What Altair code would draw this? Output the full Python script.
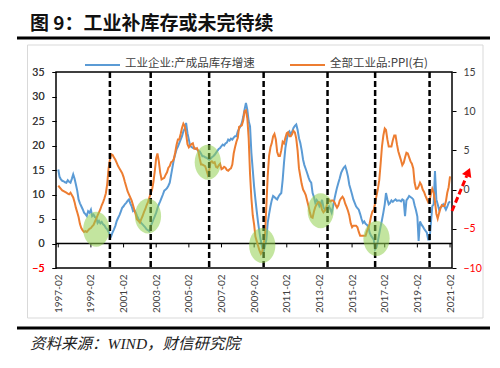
import altair as alt
import pandas as pd

# ---------------- data (monthly, 1997-02 .. 2021-02) ----------------
months = pd.date_range("1997-02-01", "2021-02-01", freq="MS")

# 工业企业:产成品库存增速 (%), left axis
inventory = [
    15.1, 13.6, 13.1, 12.8, 12.7, 12.5, 12.4, 12.9, 12.6, 12.4, 13.2,          # 1997
    14.1, 13.2, 12.1, 10.8, 9.0, 8.2, 7.6, 7.0, 6.3, 6.0, 5.6, 6.6,            # 1998
    6.3, 6.9, 5.6, 5.9, 5.4, 5.2, 4.2, 4.6, 4.1, 4.4, 3.9, 3.7,                # 1999
    3.2, 2.9, 2.4, 1.8, 1.5, 2.3, 2.9, 3.6, 4.6, 5.2, 5.8, 6.5,                # 2000
    7.3, 7.6, 8.0, 8.3, 8.7, 9.0, 8.2, 7.6, 6.6, 6.8, 6.3, 5.6,                # 2001
    5.0, 4.6, 4.2, 3.9, 3.6, 3.3, 2.9, 2.7, 2.5, 3.5, 4.2, 4.9,                # 2002
    5.6, 6.3, 7.2, 8.0, 8.6, 9.3, 10.0, 10.8, 11.0, 11.3, 11.8, 12.4,          # 2003
    14.0, 15.6, 17.1, 18.2, 19.2, 19.8, 20.5, 21.2, 21.9, 22.9, 23.5, 24.6,    # 2004
    22.5, 21.2, 19.9, 19.7, 19.5, 19.6, 19.3, 19.2, 18.9, 18.8, 18.3, 17.8,    # 2005
    17.8, 17.6, 17.5, 17.3, 17.1, 17.3, 17.6, 17.8, 18.1, 18.5, 18.9, 19.3,    # 2006
    19.5, 19.9, 20.2, 20.0, 20.4, 20.6, 21.2, 21.0, 21.4, 21.2, 21.6, 21.9,    # 2007
    21.9, 22.9, 23.4, 23.9, 24.6, 25.8, 27.3, 28.7, 27.3, 25.0, 23.9, 18.5,    # 2008
    15.0, 11.5, 9.0, 6.5, 4.2, 2.2, 0.5, -0.8, -1.6, -0.5, 0.8, 4.2,           # 2009
    6.0, 7.6, 8.8, 9.7, 9.5, 9.2, 9.0, 9.6, 10.0, 10.3, 13.0, 16.5,            # 2010
    19.5, 21.2, 22.6, 22.9, 22.2, 22.8, 23.6, 24.0, 24.3, 23.2, 21.5, 20.5,    # 2011
    19.0, 17.1, 16.0, 15.2, 14.4, 13.5, 12.8, 12.4, 10.3, 9.5, 8.3, 8.9,       # 2012
    8.5, 7.6, 8.0, 8.9, 7.4, 6.9, 7.0, 7.3, 7.6, 7.0, 6.3, 7.5,                # 2013
    9.0, 10.3, 11.4, 12.4, 13.3, 14.4, 15.0, 15.5, 15.8, 14.9, 13.7, 12.0,     # 2014
    11.0, 10.0, 9.0, 8.3, 7.6, 7.2, 6.9, 6.0, 5.0, 4.2, 4.5, 4.0,              # 2015
    3.8, 3.4, 2.2, 1.6, 1.2, 0.8, -1.2, -0.8, 0.5, 2.0, 3.5, 4.8,              # 2016
    6.3, 8.0, 10.3, 9.0, 8.0, 8.3, 8.8, 8.5, 8.8, 9.0, 8.7, 8.8,               # 2017
    8.8, 8.6, 9.0, 8.8, 5.6, 8.8, 9.2, 9.7, 9.5, 9.3, 9.0, 7.8,                # 2018
    6.8, 5.5, 0.5, 4.5, 3.9, 3.5, 3.0, 2.6, 2.2, 0.8, 0.8, 4.2,                # 2019
    7.6, 8.0, 14.8, 9.0, 8.0, 6.9, 7.3, 7.6, 8.0, 7.5, 6.9, 7.5,               # 2020
    8.3, 8.6,                                                                  # 2021
]

# 全部工业品:PPI (%), right axis
ppi = [
    0.5, 0.3, 0.1, -0.1, -0.2, -0.3, -0.4, -0.5, -0.6, -0.4, -0.7,            # 1997
    -1.0, -1.6, -2.3, -2.9, -3.5, -4.4, -4.9, -5.2, -5.4, -5.3, -5.4, -5.2,    # 1998
    -5.0, -4.9, -4.7, -4.5, -4.1, -3.7, -3.3, -2.9, -2.5, -2.0, -1.6, -1.1,    # 1999
    -0.5, 0.7, 2.6, 3.8, 4.5, 4.4, 4.1, 3.8, 3.4, 3.0, 2.7, 2.4,               # 2000
    2.1, 1.6, 1.0, 0.4, -0.2, -0.6, -1.0, -1.4, -2.0, -2.6, -3.2, -3.8,        # 2001
    -4.0, -4.2, -3.8, -3.4, -2.9, -2.5, -2.0, -1.6, -1.0, -0.5, 0.0, 1.0,      # 2002
    2.4, 4.0, 4.6, 3.6, 2.2, 1.3, 1.4, 1.5, 1.9, 2.2, 2.8, 3.0,                # 2003
    3.5, 3.6, 3.9, 4.7, 5.7, 6.4, 6.4, 7.1, 7.9, 8.4, 8.1, 7.1,                # 2004
    5.8, 5.4, 5.6, 5.8, 5.9, 5.2, 5.2, 5.3, 4.9, 4.0, 3.2, 3.2,                # 2005
    3.1, 3.0, 2.5, 1.9, 2.4, 3.5, 3.6, 3.4, 3.5, 2.9, 2.8, 3.1,                # 2006
    3.3, 2.6, 2.7, 2.9, 2.8, 2.5, 2.4, 2.6, 2.7, 3.2, 4.6, 5.4,                # 2007
    6.1, 6.6, 8.0, 8.1, 8.2, 8.8, 10.0, 10.1, 9.1, 6.6, 2.0, -1.1,             # 2008
    -3.3, -4.5, -6.0, -6.6, -7.2, -7.8, -8.2, -7.9, -7.0, -5.8, -2.1, 1.7,     # 2009
    4.3, 5.4, 5.9, 6.8, 7.1, 6.4, 4.8, 4.3, 4.3, 5.0, 6.1, 5.9,                # 2010
    6.6, 7.2, 7.3, 6.8, 6.8, 7.1, 7.5, 7.3, 6.5, 5.0, 2.7, 1.7,                # 2011
    0.7, 0.0, -0.3, -0.7, -1.4, -2.1, -2.9, -3.5, -3.6, -2.8, -2.2, -1.9,      # 2012
    -1.6, -1.6, -1.9, -2.6, -2.9, -2.7, -2.3, -1.6, -1.3, -1.5, -1.4, -1.4,    # 2013
    -1.6, -2.0, -2.3, -2.0, -1.4, -1.1, -0.9, -1.2, -1.8, -2.2, -2.7, -3.3,    # 2014
    -4.3, -4.8, -4.6, -4.6, -4.6, -4.8, -5.4, -5.9, -5.9, -5.9, -5.9, -5.9,    # 2015
    -5.3, -4.9, -4.3, -3.4, -2.8, -2.6, -1.7, -0.8, 0.1, 1.2, 3.3, 5.5,        # 2016
    6.9, 7.8, 7.6, 6.4, 5.5, 5.5, 5.5, 6.3, 6.9, 6.9, 5.8, 4.9,                # 2017
    4.3, 3.7, 3.1, 3.4, 4.1, 4.7, 4.6, 4.1, 3.6, 3.3, 2.7, 0.9,                # 2018
    0.1, 0.1, 0.4, 0.9, 0.6, 0.0, -0.3, -0.8, -1.2, -1.6, -1.4, -0.5,          # 2019
    0.1, -0.4, -1.5, -3.1, -3.7, -3.0, -2.4, -2.0, -2.1, -2.1, -1.5, -0.4,     # 2020
    0.3, 1.7,                                                                  # 2021
]

series_names = ["工业企业:产成品库存增速", "全部工业品:PPI(右)"]
cycle_dates = ["2000-04-01", "2002-10-01", "2006-05-01", "2009-09-01",
               "2013-08-01", "2016-07-01", "2019-11-01"]
bottom_dates = ["1999-06-01", "2002-08-01", "2006-04-01", "2009-08-01",
                "2013-03-01", "2016-08-01"]
bottom_values = [2.9, 5.6, 16.6, -0.4, 6.7, 1.0]
label_years = list(range(1997, 2022, 2))
left_ticks = [-5, 0, 5, 10, 15, 20, 25, 30, 35]
right_ticks = [-10, -5, 0, 5, 10, 15]
title_text = "图 9：工业补库存或未完待续"
source_text = "资料来源：WIND，财信研究院"

assert len(inventory) == len(months) == len(ppi)

df = pd.DataFrame({"date": months, "inv": inventory, "ppi": ppi})
cyc = pd.DataFrame({"date": pd.to_datetime(cycle_dates)})
bot = pd.DataFrame({"date": pd.to_datetime(bottom_dates), "v": bottom_values})
tk = pd.DataFrame({"date": pd.to_datetime([f"{y}-02-01" for y in label_years])})
one = pd.DataFrame({"k": [0]})

# ---------------- scales / axes ----------------
BLUE = "#5B9BD5"
ORANGE = "#ED7D31"
LABEL = "#404040"
RED = "#FF0000"

xscale = alt.Scale(domain=[alt.DateTime(year=1996, month=12, date=12),
                           alt.DateTime(year=2021, month=3, date=17)], nice=False)
xaxis = alt.Axis(values=[alt.DateTime(year=y, month=2, date=1) for y in label_years],
                 format="%Y-%m", labelAngle=-90, domain=False, ticks=False, tickSize=0,
                 labelPadding=6, labelFont="Lato", labelFontSize=10, labelColor=LABEL,
                 grid=False, labelOverlap=False, labelFlush=False, title=None)
X = alt.X("date:T", scale=xscale, axis=xaxis, title=None)

lscale = alt.Scale(domain=[-5, 35], nice=False, zero=False)
rscale = alt.Scale(domain=[-10, 15], nice=False, zero=False)
neg_color = {"condition": {"test": "datum.value < 0", "value": RED}, "value": LABEL}
laxis = alt.Axis(orient="left", values=left_ticks, domain=False, grid=False,
                 tickSize=4, tickColor="black", labelPadding=8, labelFont="Lato",
                 labelFontSize=10.5, labelColor=neg_color, title=None)
raxis = alt.Axis(orient="right", values=right_ticks, domain=False, grid=False,
                 tickSize=4, tickColor="black", labelPadding=7, labelFont="Lato",
                 labelFontSize=10.5, labelColor=neg_color, title=None)

# ---------------- data layers ----------------
blue = alt.Chart(df).mark_line(color=BLUE, strokeWidth=2).encode(
    x=X, y=alt.Y("inv:Q", scale=lscale, axis=laxis))

zero = alt.Chart(one).mark_rule(color="black", strokeWidth=1.3).encode(
    y=alt.Y(datum=0, scale=lscale, axis=laxis))

zticks = alt.Chart(tk).mark_rule(color="black", strokeWidth=1).encode(
    x=X, y=alt.Y(datum=0, scale=lscale, axis=laxis), y2=alt.Y2(datum=-0.8))

cycles = alt.Chart(cyc).mark_rule(color="black", strokeWidth=2.5,
                                  strokeDash=[6, 3]).encode(x=X)

ellipse = ("M 0 -1 C 0.414 -1 0.75 -0.552 0.75 0 C 0.75 0.552 0.414 1 0 1 "
           "C -0.414 1 -0.75 0.552 -0.75 0 C -0.75 -0.552 -0.414 -1 0 -1 Z")
bottoms = alt.Chart(bot).mark_point(shape=ellipse, filled=True, fill="#92D050",
                                    opacity=0.55, size=1225, strokeWidth=0).encode(
    x=X, y=alt.Y("v:Q", scale=lscale, axis=laxis))

orange = alt.Chart(df).mark_line(color=ORANGE, strokeWidth=2).encode(
    x=X, y=alt.Y("ppi:Q", scale=rscale, axis=raxis))

data_layers = alt.layer(
    alt.layer(blue, zero, zticks),
    orange,
    alt.layer(cycles, bottoms).resolve_scale(y="shared"),
).resolve_scale(y="independent")


# ---------------- decorations ----------------
def txt(s, x, y, **kw):
    return alt.Chart(one).mark_text(align="left", baseline="middle", **kw).encode(
        x=alt.value(x), y=alt.value(y), text=alt.value(s))


def seg(x1, x2, y1, y2, **kw):
    return alt.Chart(one).mark_rule(**kw).encode(
        x=alt.value(x1), x2=alt.value(x2), y=alt.value(y1), y2=alt.value(y2))


box = alt.Chart(one).mark_rect(fillOpacity=0, stroke="#D9D9D9", strokeWidth=1).encode(
    x=alt.value(-28.5), x2=alt.value(427), y=alt.value(-27), y2=alt.value(246))

decor = [
    box,
    txt(title_text, -26, -48.5, fontSize=19, fontWeight="bold",
        font="Noto Sans CJK SC", color="#111111"),
    seg(-39, 434, -34, -34, color="black", strokeWidth=3),
    seg(-39, 434, 256, 256, color="black", strokeWidth=3),
    txt(source_text, -26, 272, fontSize=15.5, fontStyle="italic",
        font="Liberation Serif, Noto Sans CJK SC", color="#222222"),
    seg(29, 64, -7, -7, color=BLUE, strokeWidth=2),
    txt(series_names[0], 69, -8, fontSize=11.5, font="Noto Sans CJK SC", color=LABEL),
    seg(234, 269, -7, -7, color=ORANGE, strokeWidth=2),
    txt(series_names[1], 274, -8, fontSize=11.5, font="Noto Sans CJK SC", color=LABEL),
    seg(396, 410.7, 139, 103.9, color=RED, strokeWidth=3, strokeDash=[6, 3]),
    alt.Chart(one).mark_point(shape="triangle-up", filled=True, color=RED, size=100,
                              angle=22.7, opacity=1).encode(
        x=alt.value(412.3), y=alt.value(100)),
]

chart = alt.layer(data_layers, *decor).properties(
    width=396, height=196,
    autosize=alt.AutoSizeParams(type="none"),
    padding={"left": 48, "top": 64, "right": 40, "bottom": 92},
    background="white",
).configure_view(stroke="black", strokeWidth=1.5)

chart.save("out.html", embed_options={"renderer": "svg", "actions": False})
